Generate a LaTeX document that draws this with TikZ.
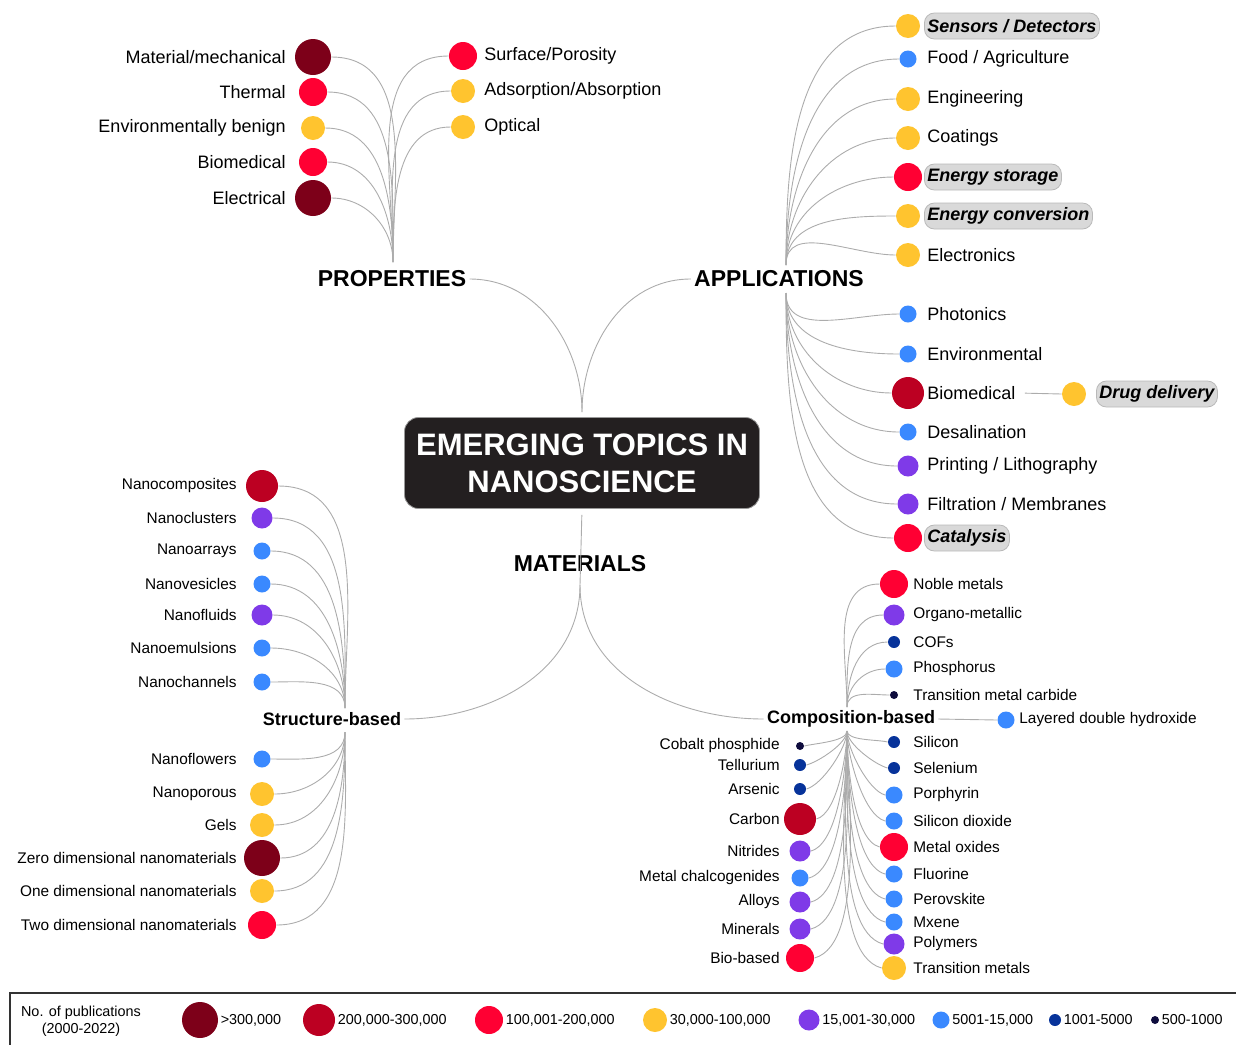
\documentclass[tikz,border=0pt]{standalone}
\usepackage{fontspec}
\setmainfont{Liberation Sans}
\usetikzlibrary{positioning}

\definecolor{cA}{HTML}{7D0019}
\definecolor{cB}{HTML}{BC0022}
\definecolor{cC}{HTML}{FF0033}
\definecolor{cD}{HTML}{FFC42F}
\definecolor{cE}{HTML}{7F3AE8}
\definecolor{cF}{HTML}{3A89FF}
\definecolor{cG}{HTML}{07339A}
\definecolor{cH}{HTML}{0E0C3D}
\definecolor{hubfill}{HTML}{231F20}

\begin{document}
\begin{tikzpicture}[
  x=0.5pt, y=0.5pt,
  link/.style={draw=gray!65, line width=0.45pt},
  dot/.style={circle, inner sep=0pt},
  pubA/.style={dot, fill=cA, minimum size=18pt},
  pubB/.style={dot, fill=cB, minimum size=16pt},
  pubC/.style={dot, fill=cC, minimum size=14pt},
  pubD/.style={dot, fill=cD, minimum size=12pt},
  pubE/.style={dot, fill=cE, minimum size=10.5pt},
  pubF/.style={dot, fill=cF, minimum size=8.5pt},
  pubG/.style={dot, fill=cG, minimum size=6pt},
  pubH/.style={dot, fill=cH, minimum size=4pt},
  lbl/.style={inner sep=1.5pt, font=\fontsize{9}{11}\selectfont},
  small/.style={inner sep=1.5pt, font=\fontsize{7.7}{9}\selectfont},
  head/.style={inner sep=1.5pt, font=\fontsize{11.5}{13}\selectfont\bfseries},
  sub/.style={inner sep=1.5pt, font=\fontsize{9}{11}\selectfont\bfseries},
  hl/.style={draw=gray!55, fill=gray!30, rounded corners=5pt, minimum height=13pt,
    font=\fontsize{9}{11}\selectfont\bfseries\itshape},
  nohl/.style={},
  hubbox/.style={fill=hubfill, draw=gray!80, rounded corners=7pt, minimum width=177.5pt,
    minimum height=45.5pt, text=white, align=center, font=\fontsize{15.5}{18.5}\selectfont\bfseries},
  leg/.style={inner sep=1pt, font=\fontsize{7.2}{8.7}\selectfont},
]
\useasboundingbox (0,0) rectangle (1236,-1045);

% ---------------- Centre ----------------
\node[hubbox] (hub) at (582,-463) {EMERGING TOPICS IN\\NANOSCIENCE};
\node[head] (prop) at (392,-279) {PROPERTIES};
\node[head] (app) at (779,-279) {APPLICATIONS};
\node[head] (mat) at (580,-564) {MATERIALS};
\coordinate (mj) at (580,-585);
\draw[link, shorten <=2.5pt] (hub.north) to[out=90,in=0] (prop.east);
\draw[link, shorten <=2.5pt] (hub.north) to[out=90,in=180] (app.west);
\draw[link, shorten <=3pt] (hub.south) -- (mj);

% ---------------- Properties ----------------
\coordinate (pj) at (393,-262);
\foreach \i/\y/\cls/\txt in {1/57/pubA/{Material/mechanical}, 2/92/pubC/Thermal,
    3/128/pubD/{Environmentally benign}, 4/162/pubC/Biomedical, 5/198/pubA/Electrical} {
  \node[\cls] (pl\i) at (313,-\y) {};
  \node[lbl, anchor=east] (plt\i) at (289,-\y) {\txt};
  \draw[link] (pl\i.east) to[out=0,in=90] (pj);
}
\foreach \i/\y/\cls/\txt in {1/56/pubC/{Surface/Porosity}, 2/91/pubD/{Adsorption/Absorption},
    3/127/pubD/Optical} {
  \node[\cls] (pr\i) at (463,-\y) {};
  \node[lbl, anchor=west] (prt\i) at (481,-\y) {\txt};
  \draw[link] (pj) to[out=90,in=180] (pr\i.west);
}

% ---------------- Applications ----------------
\coordinate (aj1) at (786,-265);
\coordinate (aj2) at (786,-293);
\foreach \i/\y/\cls/\hs/\txt in {1/26/pubD/hl/{Sensors / Detectors}, 2/59/pubF/nohl/{Food / Agriculture},
    3/99/pubD/nohl/Engineering, 4/138/pubD/nohl/Coatings, 5/177/pubC/hl/{Energy storage},
    6/216/pubD/hl/{Energy conversion}, 7/255/pubD/nohl/Electronics} {
  \node[\cls] (ap\i) at (908,-\y) {};
  \node[lbl, \hs, anchor=west] (apt\i) at (924,-\y) {\txt};
  \draw[link] (aj1) to[out=90,in=180] (ap\i.west);
}
\foreach \i/\y/\cls/\hs/\txt in {8/314/pubF/nohl/Photonics, 9/354/pubF/nohl/Environmental,
    10/393/pubB/nohl/Biomedical, 11/432/pubF/nohl/Desalination, 12/466/pubE/nohl/{Printing / Lithography},
    13/504/pubE/nohl/{Filtration / Membranes}, 14/538/pubC/hl/Catalysis} {
  \node[\cls] (ap\i) at (908,-\y) {};
  \node[lbl, \hs, anchor=west] (apt\i) at (924,-\y) {\txt};
  \draw[link] (aj2) to[out=-90,in=180] (ap\i.west);
}
\node[pubD] (dd) at (1074,-394) {};
\node[lbl, hl, anchor=west] (ddt) at (1096,-394) {Drug delivery};
\draw[link, shorten <=3pt] (apt10.east) -- (dd.west);

% ---------------- Materials: structure-based ----------------
\node[sub] (str) at (332,-719) {Structure-based};
\coordinate (sj1) at (345,-708);
\coordinate (sj2) at (345,-732);
\draw[link] (mj) to[out=-90,in=0] (str.east);
\foreach \i/\y/\cls/\txt in {1/486/pubB/Nanocomposites, 2/518/pubE/Nanoclusters, 3/551/pubF/Nanoarrays,
    4/584/pubF/Nanovesicles, 5/615/pubE/Nanofluids, 6/648/pubF/Nanoemulsions, 7/682/pubF/Nanochannels} {
  \node[\cls] (st\i) at (262,-\y) {};
  \node[small, anchor=east] (stt\i) at (240,-\y) {\txt};
  \draw[link] (st\i.east) to[out=0,in=90] (sj1);
}
\foreach \i/\y/\cls/\txt in {8/759/pubF/Nanoflowers, 9/794/pubD/Nanoporous, 10/825/pubD/Gels,
    11/858/pubA/{Zero dimensional nanomaterials}, 12/891/pubD/{One dimensional nanomaterials},
    13/925/pubC/{Two dimensional nanomaterials}} {
  \node[\cls] (st\i) at (262,-\y) {};
  \node[small, anchor=east] (stt\i) at (240,-\y) {\txt};
  \draw[link] (st\i.east) to[out=0,in=-90] (sj2);
}

% ---------------- Materials: composition-based ----------------
\node[sub] (comp) at (851,-719) {Composition-based};
\coordinate (cj1) at (847,-707);
\coordinate (cj2) at (847,-731);
\draw[link] (mj) to[out=-90,in=180] (comp.west);
\foreach \i/\y/\cls/\txt in {1/584/pubC/{Noble metals}, 2/615/pubE/Organo-metallic, 3/642/pubG/COFs,
    4/669/pubF/Phosphorus, 5/695/pubH/{Transition metal carbide}} {
  \node[\cls] (cr\i) at (894,-\y) {};
  \node[small, anchor=west] (crt\i) at (910,-\y) {\txt};
  \draw[link] (cj1) to[out=90,in=180] (cr\i.west);
}
\foreach \i/\y/\cls/\txt in {6/742/pubG/Silicon, 7/768/pubG/Selenium, 8/795/pubF/Porphyrin,
    9/821/pubF/{Silicon dioxide}, 10/847/pubC/{Metal oxides}, 11/874/pubF/Fluorine, 12/899/pubF/Perovskite,
    13/922/pubF/Mxene, 14/944/pubE/Polymers, 15/968/pubD/{Transition metals}} {
  \node[\cls] (cr\i) at (894,-\y) {};
  \node[small, anchor=west] (crt\i) at (910,-\y) {\txt};
  \draw[link] (cj2) to[out=-90,in=165,looseness=0.6] (cr\i.west);
}
\foreach \i/\y/\cls/\txt in {1/746/pubH/{Cobalt phosphide}, 2/765/pubG/Tellurium, 3/789/pubG/Arsenic,
    4/819/pubB/Carbon, 5/851/pubE/Nitrides, 6/878/pubF/{Metal chalcogenides}, 7/902/pubE/Alloys,
    8/929/pubE/Minerals, 9/958/pubC/Bio-based} {
  \node[\cls] (cl\i) at (800,-\y) {};
  \node[small, anchor=east] (clt\i) at (783,-\y) {\txt};
  \draw[link] (cl\i.east) to[out=15,in=-90,looseness=0.6] (cj2);
}
\node[pubF] (ldh) at (1006,-720) {};
\node[small, anchor=west] (ldht) at (1016,-720) {Layered double hydroxide};
\draw[link] (comp.east) -- (ldh.west);

% ---------------- Legend ----------------
\draw[line width=0.6pt, draw=black!80] (1236,-993) -- (10,-993) -- (10,-1045);
\node[leg, align=center] (legt) at (81,-1021) {No. of publications\\(2000-2022)};
\foreach \i/\x/\cls/\txt in {1/200/pubA/{>300,000}, 2/319/pubB/{200,000-300,000}, 3/489/pubC/{100,001-200,000},
    4/655/pubD/{30,000-100,000}, 5/809/pubE/{15,001-30,000}, 6/941/pubF/{5001-15,000},
    7/1055/pubG/{1001-5000}, 8/1155/pubH/{500-1000}} {
  \node[\cls] (lg\i) at (\x,-1020) {};
  \node[leg, anchor=west] (lgt\i) at (lg\i.east) {\txt};
}

\end{tikzpicture}
\end{document}
